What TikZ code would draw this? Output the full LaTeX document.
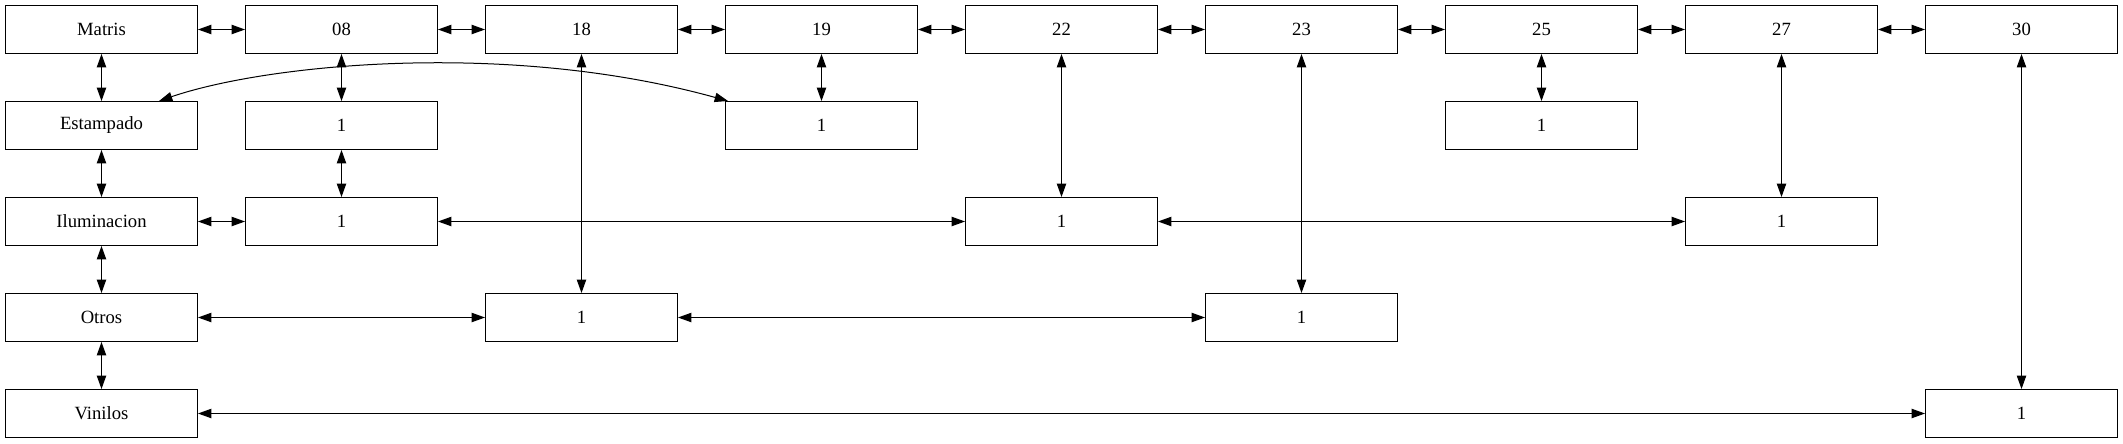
\documentclass[tikz,border=0pt]{standalone}
\usepackage{fontspec}
\setmainfont{Liberation Serif}
\usetikzlibrary{arrows.meta}
\begin{document}
\begin{tikzpicture}[x=0.75pt,y=-0.75pt,
  box/.style={draw,line width=0.75pt,minimum width=144pt,minimum height=36pt,inner sep=0pt,font=\fontsize{14pt}{16pt}\selectfont},
  link/.style={line width=0.75pt,{Triangle[length=10pt,width=7pt]}-{Triangle[length=10pt,width=7pt]}}]
\useasboundingbox (0,0) rectangle (2123,443);
% row 0
\node[box] (matris) at (101.5,29.5) {Matris};
\node[box] (n08) at (341.5,29.5) {08};
\node[box] (n18) at (581.5,29.5) {18};
\node[box] (n19) at (821.5,29.5) {19};
\node[box] (n22) at (1061.5,29.5) {22};
\node[box] (n23) at (1301.5,29.5) {23};
\node[box] (n25) at (1541.5,29.5) {25};
\node[box] (n27) at (1781.5,29.5) {27};
\node[box] (n30) at (2021.5,29.5) {30};
% row 1
\node[box] (estampado) at (101.5,125.5) {Estampado};
\node[box] (a1) at (341.5,125.5) {1};
\node[box] (a3) at (821.5,125.5) {1};
\node[box] (a6) at (1541.5,125.5) {1};
% row 2
\node[box] (ilum) at (101.5,221.5) {Iluminacion};
\node[box] (b1) at (341.5,221.5) {1};
\node[box] (b4) at (1061.5,221.5) {1};
\node[box] (b7) at (1781.5,221.5) {1};
% row 3
\node[box] (otros) at (101.5,317.5) {Otros};
\node[box] (c2) at (581.5,317.5) {1};
\node[box] (c5) at (1301.5,317.5) {1};
% row 4
\node[box] (vinilos) at (101.5,413.5) {Vinilos};
\node[box] (d8) at (2021.5,413.5) {1};
% top row chain
\draw[link] (matris) -- (n08);
\draw[link] (n08) -- (n18);
\draw[link] (n18) -- (n19);
\draw[link] (n19) -- (n22);
\draw[link] (n22) -- (n23);
\draw[link] (n23) -- (n25);
\draw[link] (n25) -- (n27);
\draw[link] (n27) -- (n30);
% left column chain
\draw[link] (matris) -- (estampado);
\draw[link] (estampado) -- (ilum);
\draw[link] (ilum) -- (otros);
\draw[link] (otros) -- (vinilos);
% verticals
\draw[link] (n08) -- (a1);
\draw[link] (a1) -- (b1);
\draw[link] (n18) -- (c2);
\draw[link] (n19) -- (a3);
\draw[link] (n22) -- (b4);
\draw[link] (n23) -- (c5);
\draw[link] (n25) -- (a6);
\draw[link] (n27) -- (b7);
\draw[link] (n30) -- (d8);
% horizontals
\draw[link] (ilum) -- (b1);
\draw[link] (b1) -- (b4);
\draw[link] (b4) -- (b7);
\draw[link] (otros) -- (c2);
\draw[link] (c2) -- (c5);
\draw[link] (vinilos) -- (d8);
% curved edge
\path (estampado.north east) ++(-39,0) coordinate (cs);
\path (a3.north west) ++(3,0) coordinate (ce);
\draw[link] (cs) .. controls (267,64) and (508,40) .. (ce);
\end{tikzpicture}
\end{document}
